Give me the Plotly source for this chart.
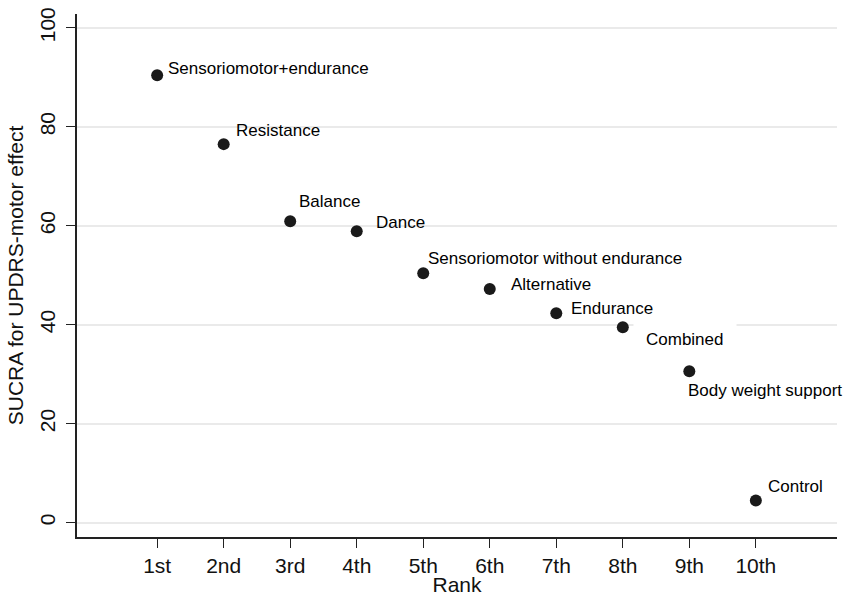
import plotly.graph_objects as go

ranks = [1, 2, 3, 4, 5, 6, 7, 8, 9, 10]
rank_labels = ["1st", "2nd", "3rd", "4th", "5th", "6th", "7th", "8th", "9th", "10th"]
sucra = [90.4, 76.5, 60.9, 58.9, 50.4, 47.2, 42.3, 39.5, 30.6, 4.5]
names = ["Sensoriomotor+endurance", "Resistance", "Balance", "Dance",
         "Sensoriomotor without endurance", "Alternative", "Endurance",
         "Combined", "Body weight support", "Control"]

# label offsets in pixels (x shift, y shift)
label_shift = [(9, 7), (10, 14), (7, 20), (17, 9), (3, 15), (19, 5),
               (13, 5), (10, -12), (-3, -19), (10, 14)]

FONT = "Liberation Sans, Arial, Helvetica, sans-serif"

fig = go.Figure()
fig.add_trace(go.Scatter(
    x=ranks, y=sucra, mode="markers",
    marker=dict(size=12, color="#1a1a1a"),
    hoverinfo="skip", showlegend=False,
))

for xv, yv, nm, (dx, dy) in zip(ranks, sucra, names, label_shift):
    extra = {}
    if nm == "Combined":
        extra = dict(bgcolor="white", borderpad=12)
    fig.add_annotation(
        x=xv, y=yv, xref="x", yref="y", text=nm, showarrow=False,
        xanchor="left", yanchor="middle", xshift=dx, yshift=dy,
        font=dict(family=FONT, size=17, color="#000000"), **extra,
    )

fig.update_layout(
    width=846, height=596,
    margin=dict(l=77, r=9, t=14, b=59),
    paper_bgcolor="white", plot_bgcolor="white",
    font=dict(family=FONT, color="#111111"),
)
fig.update_xaxes(
    range=[-0.205, 11.22], tickmode="array", tickvals=ranks, ticktext=rank_labels,
    showgrid=False, zeroline=False, showline=True, linecolor="#222222", linewidth=1.5,
    ticks="outside", ticklen=9, tickwidth=1.2, tickcolor="#222222",
    tickfont=dict(size=21, family=FONT, color="#111111"),
    automargin=False,
    title=dict(text="Rank", font=dict(size=21, family=FONT, color="#111111"), standoff=2),
)
fig.update_yaxes(
    range=[-2.9, 102.8], tickmode="array", tickvals=[0, 20, 40, 60, 80, 100],
    tickangle=-90, ticklabelstandoff=3,
    showgrid=True, gridcolor="#eaeaea", gridwidth=1.5, zeroline=False,
    showline=True, linecolor="#222222", linewidth=1.5,
    ticks="outside", ticklen=9, tickwidth=1.2, tickcolor="#222222",
    tickfont=dict(size=21, family=FONT, color="#111111"),
    automargin=False,
    title=dict(text="SUCRA for UPDRS-motor effect", font=dict(size=21, family=FONT, color="#111111"), standoff=6),
)

fig.write_html("out.html", config={"displayModeBar": False},
               post_script="document.body.style.margin='0';")
